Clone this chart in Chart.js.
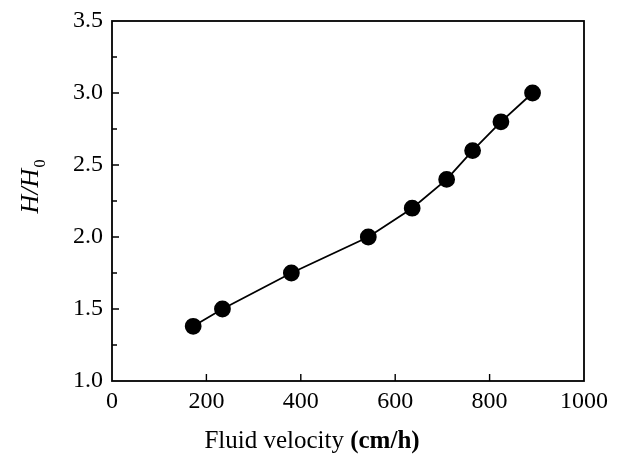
<!DOCTYPE html>
<html>
<head>
<meta charset="utf-8">
<script src="https://cdn.jsdelivr.net/npm/chart.js@4.4.1/dist/chart.umd.min.js"></script>
<style>
  html, body { margin: 0; padding: 0; background: #fff; }
  #wrap { width: 625px; height: 455px; }
</style>
</head>
<body>
<div id="wrap"><canvas id="chart" width="625" height="455"></canvas></div>
<script>
// data
const velocity = [172, 234, 380, 543, 636, 709, 764, 824, 891];
const ratio = [1.38, 1.50, 1.75, 2.00, 2.20, 2.40, 2.60, 2.80, 3.00];
const xTicks = [0, 200, 400, 600, 800, 1000];
const yTicks = [1.0, 1.5, 2.0, 2.5, 3.0, 3.5];
const yMinorTicks = [1.25, 1.75, 2.25, 2.75, 3.25];

const serif = '"Liberation Serif", "DejaVu Serif", serif';

// frame, inward ticks and the mixed-style axis titles
const framePlugin = {
    id: 'frame',
    afterDraw(chart) {
        const c = chart.ctx;
        const a = chart.chartArea;
        const xs = chart.scales.x, ys = chart.scales.y;
        c.save();
        c.strokeStyle = '#000';
        c.lineWidth = 1.8;
        c.strokeRect(a.left, a.top, a.right - a.left, a.bottom - a.top);

        c.lineWidth = 1.4;
        c.beginPath();
        xTicks.slice(1, -1).forEach(v => {
            const px = xs.getPixelForValue(v);
            c.moveTo(px, a.bottom);
            c.lineTo(px, a.bottom - 7);
        });
        yTicks.slice(1, -1).forEach(v => {
            const py = ys.getPixelForValue(v);
            c.moveTo(a.left, py);
            c.lineTo(a.left + 7, py);
        });
        yMinorTicks.forEach(v => {
            const py = ys.getPixelForValue(v);
            c.moveTo(a.left, py);
            c.lineTo(a.left + 5, py);
        });
        c.stroke();

        // x title: "Fluid velocity " regular + "(cm/h)" bold
        c.fillStyle = '#000';
        c.textBaseline = 'alphabetic';
        c.textAlign = 'left';
        const part1 = 'Fluid velocity ';
        const part2 = '(cm/h)';
        c.font = '25px ' + serif;
        const w1 = c.measureText(part1).width;
        c.font = 'bold 25px ' + serif;
        const w2 = c.measureText(part2).width;
        let x0 = 312 - (w1 + w2) / 2;
        c.font = '25px ' + serif;
        c.fillText(part1, x0, 448);
        c.font = 'bold 25px ' + serif;
        c.fillText(part2, x0 + w1, 448);

        // y title: italic H/H with subscript 0
        c.translate(38, 187);
        c.rotate(-Math.PI / 2);
        c.font = 'italic 26px ' + serif;
        const main = 'H/H';
        const wm = c.measureText(main).width;
        c.font = '16px ' + serif;
        const ws = c.measureText('0').width;
        const sx = -(wm + ws) / 2;
        c.font = 'italic 26px ' + serif;
        c.fillText(main, sx, 0);
        c.font = '16px ' + serif;
        c.fillText('0', sx + wm + 1, 7);
        c.restore();
    }
};

const ctx = document.getElementById('chart').getContext('2d');
const chart = new Chart(ctx, {
    type: 'line',
    data: {
        datasets: [{
            data: velocity.map((v, i) => ({ x: v, y: ratio[i] })),
            borderColor: '#000',
            borderWidth: 1.8,
            backgroundColor: '#000',
            pointBackgroundColor: '#000',
            pointBorderColor: '#000',
            pointRadius: 7.5,
            tension: 0,
            fill: false
        }]
    },
    options: {
        responsive: false,
        animation: false,
        layout: { padding: { top: 21, right: 41, left: 0, bottom: 0 } },
        plugins: {
            legend: { display: false },
            tooltip: { enabled: false }
        },
        scales: {
            x: {
                type: 'linear',
                min: 0,
                max: 1000,
                afterBuildTicks(s) { s.ticks = xTicks.map(v => ({ value: v })); },
                afterFit(s) {
                    s.height = 74;
                    s.paddingLeft = 0;
                    s.paddingRight = 0;
                },
                grid: { display: false, drawTicks: false },
                border: { display: false },
                ticks: {
                    color: '#000',
                    padding: 6,
                    font: { family: serif, size: 24 },
                    maxRotation: 0,
                    callback: v => String(v)
                }
            },
            y: {
                type: 'linear',
                min: 1,
                max: 3.5,
                afterBuildTicks(s) { s.ticks = yTicks.map(v => ({ value: v })); },
                afterFit(s) {
                    s.width = 112;
                    s.paddingTop = 0;
                    s.paddingBottom = 0;
                },
                grid: { display: false, drawTicks: false },
                border: { display: false },
                ticks: {
                    color: '#000',
                    padding: 9,
                    font: { family: serif, size: 24 },
                    callback: v => v.toFixed(1)
                }
            }
        }
    },
    plugins: [framePlugin]
});
</script>
</body>
</html>
